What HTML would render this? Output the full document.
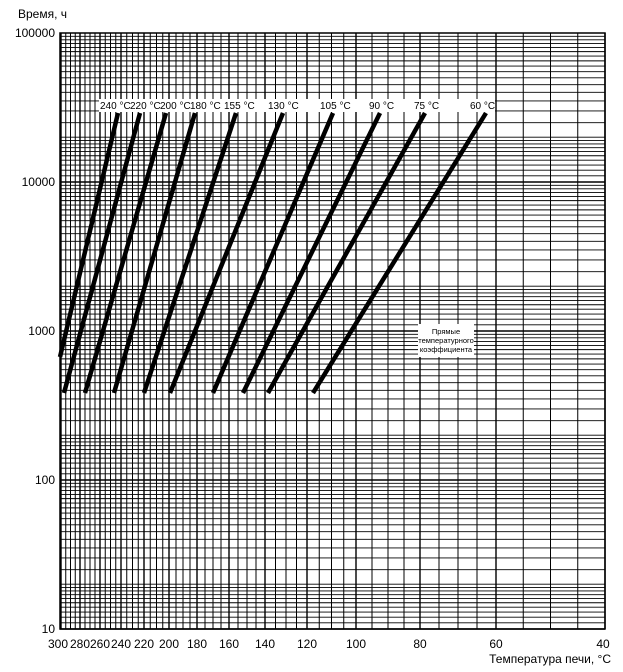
<!DOCTYPE html><html><head><style>body{margin:0;background:#fff}svg{display:block;font-family:"Liberation Sans",sans-serif}</style></head><body>
<svg id="s" width="623" height="672" xmlns="http://www.w3.org/2000/svg"></svg>
<script>
(function(){
const s=document.getElementById('s');const NS="http://www.w3.org/2000/svg";
function el(t,a,txt){const e=document.createElementNS(NS,t);for(const k in a)e.setAttribute(k,a[k]);if(txt!==undefined)e.textContent=txt;s.appendChild(e);return e;}
const P=[[300,61],[280,80],[260,100],[240,121],[220,144],[200,169],[180,197],[160,229],[140,265],[120,307],[100,356],[80,420],[60,496],[40,605]];
function X(T){for(let i=0;i<P.length-1;i++){const a=P[i][0],xa=P[i][1],b=P[i+1][0],xb=P[i+1][1];if(T<=a&&T>=b)return xa+(xb-xa)*(a-T)/(a-b);}return 0;}
const TOPY=33,BOTY=629,dec=(BOTY-TOPY)/4;
function Y(v){return BOTY-(Math.log10(v)-1)*dec;}
for(let T=300;T>=40;T-=5){const x=X(T);el('line',{x1:x,y1:TOPY,x2:x,y2:BOTY,stroke:'#000','stroke-width':T%20==0?1.4:1});}
for(let d=1;d<=4;d++){const base=Math.pow(10,d);let ms=[];for(let m=1;m<1.99;m+=0.1)ms.push(m);for(let m=2;m<10;m+=0.5)ms.push(m);
for(const m of ms){const y=Y(base*m);el('line',{x1:60,y1:y,x2:605,y2:y,stroke:'#000','stroke-width':Math.abs(m-1)<1e-6?1.4:0.9});}}
el('rect',{x:60,y:TOPY,width:545,height:BOTY-TOPY,fill:'none',stroke:'#000','stroke-width':1.5});
const L=[[60,357,118,113],[64,393,140,113],[85,393,166,113],[114,393,195,113],[144,393,236,113],[170,393,283,113],[213,393,333,113],[243,393,380,113],[268,393,425,113],[313,393,486,113]];
for(const q of L)el('line',{x1:q[0],y1:q[1],x2:q[2],y2:q[3],stroke:'#000','stroke-width':4.5});
el('rect',{x:99,y:99,width:396,height:13,fill:'#fff'});
const lab=[["240 °C",100],["220 °C",130],["200 °C",160],["180 °C",190],["155 °C",224],["130 °C",268],["105 °C",320],["90 °C",369],["75 °C",414],["60 °C",470]];
for(const q of lab)el('text',{x:q[1],y:109,'font-size':10},q[0]);
el('rect',{x:418,y:324,width:56,height:33,fill:'#fff'});
['Прямые','температурного','коэффициента'].forEach((t,i)=>el('text',{x:446,y:334+i*9,'font-size':7.5,'text-anchor':'middle'},t));
[[100000,'100000'],[10000,'10000'],[1000,'1000'],[100,'100'],[10,'10']].forEach(q=>el('text',{x:55,y:Y(q[0])+4,'font-size':12,'text-anchor':'end'},q[1]));
el('text',{x:18,y:18,'font-size':12},'Время, ч');
for(const q of P)el('text',{x:q[0]==300?58:(q[0]==40?603:q[1]),y:648,'font-size':12,'text-anchor':'middle'},String(q[0]));
el('text',{x:611,y:663,'font-size':12,'text-anchor':'end'},'Температура печи, °C');
})();
</script></body></html>
